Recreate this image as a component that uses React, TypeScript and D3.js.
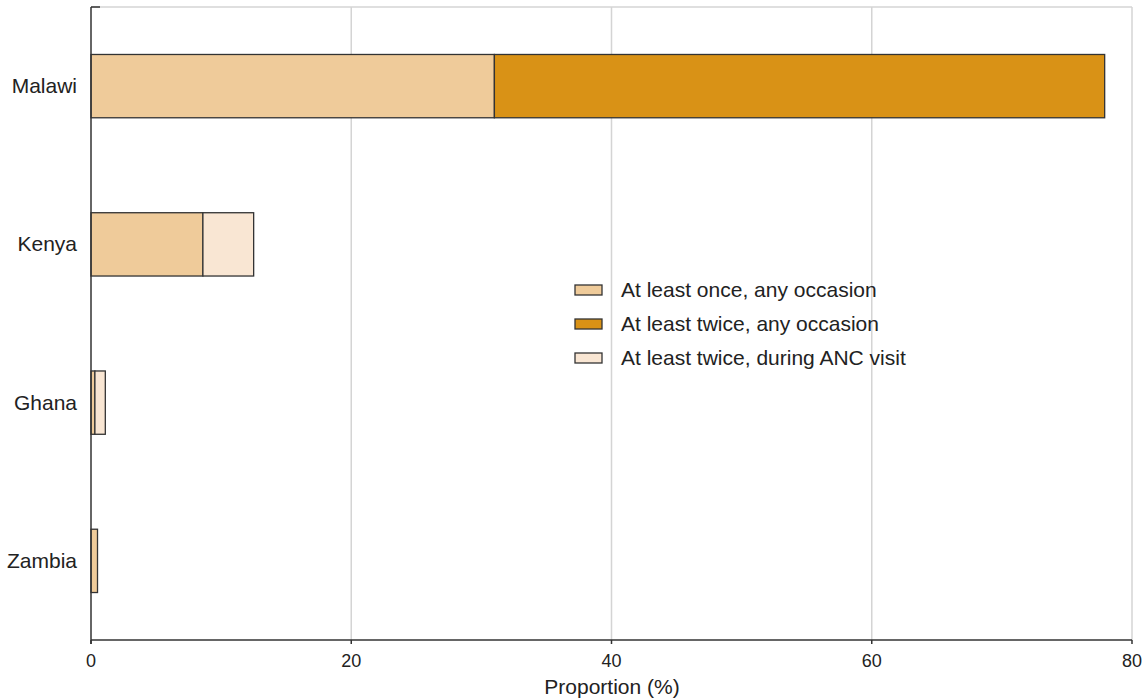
import React from "react";
import * as d3 from "d3";

const countries = ["Malawi", "Kenya", "Ghana", "Zambia"];
const onceAny = [31.0, 8.6, 0.3, 0.5];
const twiceAny = [46.9, 0, 0, 0];
const twiceANC = [0, 3.9, 0.8, 0];
const seriesNames = [
  "At least once, any occasion",
  "At least twice, any occasion",
  "At least twice, during ANC visit",
];
const seriesColors = ["#EFCB9A", "#D99216", "#F9E6D3"];
const xTicks = [0, 20, 40, 60, 80];

export default function App() {
  const W = 1146, H = 698;
  const left = 91, right = 1132, top = 7, bottom = 640;
  const x = d3.scaleLinear().domain([0, 80]).range([left, right]);
  const y = d3.scaleBand().domain(countries).range([top, bottom]).paddingInner(0.6).paddingOuter(0.3);
  const rows = countries.map((c, i) => ({ c, vals: [onceAny[i], twiceAny[i], twiceANC[i]] }));
  const font = "'Liberation Sans', Arial, sans-serif";
  return (
    <svg width={W} height={H} style={{ position: "absolute", left: 0, top: 0 }} fontFamily={font}>
      <rect width={W} height={H} fill="#fff" />
      <line x1={left} x2={right} y1={top} y2={top} stroke="#d4d4d4" strokeWidth={1.5} />
      {xTicks.slice(1).map((t) => (
        <line key={t} x1={x(t)} x2={x(t)} y1={top} y2={bottom} stroke="#d4d4d4" strokeWidth={1.5} />
      ))}
      {rows.map((r) => {
        let acc = 0;
        return r.vals.map((v, j) => {
          if (v <= 0) return null;
          const x0 = acc;
          acc += v;
          return (
            <rect key={r.c + j} x={x(x0)} y={y(r.c)} width={x(acc) - x(x0)} height={y.bandwidth()}
              fill={seriesColors[j]} stroke="#333" strokeWidth={1.3} />
          );
        });
      })}
      <line x1={left} x2={left} y1={top} y2={bottom + 4} stroke="#333" strokeWidth={1.5} />
      <line x1={left} x2={left + 9} y1={top} y2={top} stroke="#333" strokeWidth={1.5} />
      <line x1={left} x2={right} y1={bottom} y2={bottom} stroke="#333" strokeWidth={1.5} />
      {xTicks.map((t) => (
        <g key={t}>
          <line x1={x(t)} x2={x(t)} y1={bottom} y2={bottom + 4} stroke="#333" strokeWidth={1.5} />
          <text x={x(t)} y={667} textAnchor="middle" fontSize={18} fill="#222">{t}</text>
        </g>
      ))}
      <text x={612} y={694} textAnchor="middle" fontSize={21} fill="#222">Proportion (%)</text>
      {countries.map((c) => (
        <text key={c} x={77} y={y(c)! + y.bandwidth() / 2 + 7} textAnchor="end" fontSize={21} fill="#222">{c}</text>
      ))}
      {seriesNames.map((s, i) => (
        <g key={s}>
          <rect x={575} y={285 + i * 34} width={27} height={10} fill={seriesColors[i]} stroke="#333" strokeWidth={1.3} />
          <text x={621} y={297 + i * 34} fontSize={21} fill="#222">{s}</text>
        </g>
      ))}
    </svg>
  );
}
